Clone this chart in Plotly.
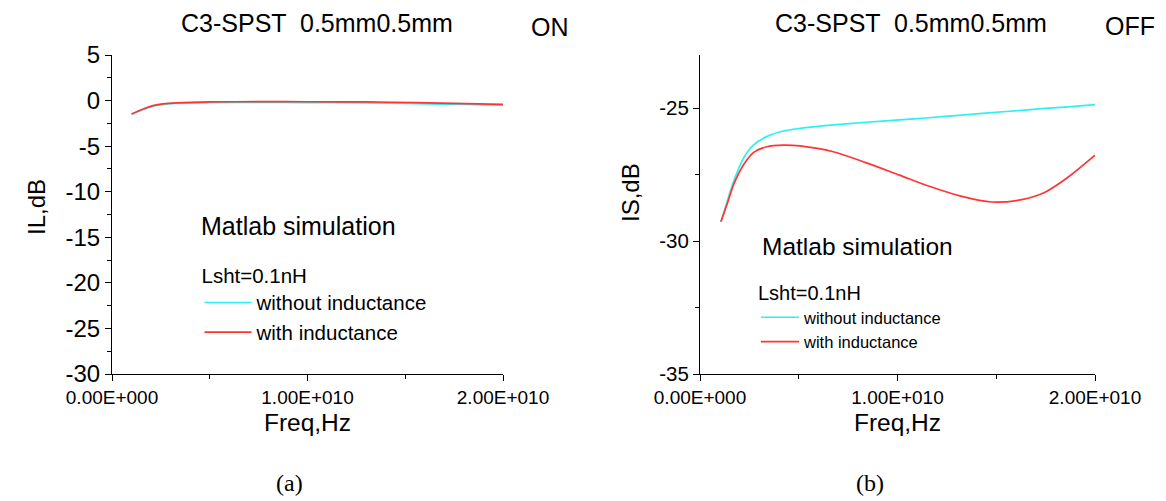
import plotly.graph_objects as go

# ---------------- data ----------------
freq_on = [1.0e9, 1.6e9, 2.1e9, 2.6e9, 3.3e9, 5.0e9, 7.6e9, 10.0e9, 13.0e9, 15.6e9, 18.1e9, 20.0e9]
il_without = [-1.50, -0.97, -0.62, -0.43, -0.32, -0.22, -0.19, -0.22, -0.26, -0.34, -0.43, -0.50]
il_with = [-1.47, -0.92, -0.56, -0.37, -0.26, -0.15, -0.12, -0.13, -0.15, -0.23, -0.34, -0.41]

freq_off = [1.06e9, 1.4e9, 1.69e9, 2.19e9, 2.7e9, 3.38e9, 4.22e9, 5.06e9, 6.75e9, 8.4e9,
            10.1e9, 11.57e9, 13.25e9, 14.77e9, 16.29e9, 17.47e9, 18.65e9, 20.0e9]
is_without = [-29.27, -28.45, -27.78, -26.90, -26.39, -26.07, -25.86, -25.76, -25.63, -25.53,
              -25.44, -25.36, -25.26, -25.17, -25.08, -25.01, -24.95, -24.87]
is_with = [-29.27, -28.55, -27.90, -27.15, -26.67, -26.45, -26.39, -26.42, -26.64, -27.05,
           -27.52, -27.93, -28.32, -28.53, -28.44, -28.16, -27.59, -26.77]

x_tickvals = [0, 1e10, 2e10]
x_ticktext = ["0.00E+000", "1.00E+010", "2.00E+010"]
il_tickvals = [5, 0, -5, -10, -15, -20, -25, -30]
il_ticktext = ["5", "0", "-5", "-10", "-15", "-20", "-25", "-30"]
is_tickvals = [-25, -30, -35]
is_ticktext = ["-25", "-30", "-35"]

panel_title = "C3-SPST  0.5mm0.5mm"
state_on, state_off = "ON", "OFF"
legend_title = "Lsht=0.1nH"
name_without, name_with = "without inductance", "with inductance"
note = "Matlab simulation"

CYAN = "#2DF0F0"
RED = "#FF3535"
FONT = "Liberation Sans, Arial, sans-serif"
SERIF = "Liberation Serif, Times New Roman, serif"
W, H = 1166, 501

fig = go.Figure()
fig.add_trace(go.Scatter(x=freq_on, y=il_without, mode="lines", name=name_without,
                         line=dict(color=CYAN, width=1.7, shape="spline", smoothing=0.8),
                         xaxis="x", yaxis="y", legend="legend"))
fig.add_trace(go.Scatter(x=freq_on, y=il_with, mode="lines", name=name_with,
                         line=dict(color=RED, width=1.7, shape="spline", smoothing=0.8),
                         xaxis="x", yaxis="y", legend="legend"))
fig.add_trace(go.Scatter(x=freq_off, y=is_without, mode="lines", name=name_without,
                         line=dict(color=CYAN, width=1.7, shape="spline", smoothing=0.8),
                         xaxis="x2", yaxis="y2", legend="legend2"))
fig.add_trace(go.Scatter(x=freq_off, y=is_with, mode="lines", name=name_with,
                         line=dict(color=RED, width=1.7, shape="spline", smoothing=0.8),
                         xaxis="x2", yaxis="y2", legend="legend2"))

def px(x):
    return x / W

def py(y):
    return 1 - y / H

common = dict(showline=True, linecolor="black", linewidth=1, ticks="outside",
              ticklen=6, tickcolor="black", tickwidth=1, showgrid=False,
              zeroline=False, mirror=False, automargin=False)

ydom = [py(374), py(55)]

fig.update_layout(
    width=W, height=H, margin=dict(l=0, r=0, t=0, b=0),
    paper_bgcolor="white", plot_bgcolor="white", template="none",
    font=dict(family=FONT, color="black"),
    xaxis=dict(domain=[px(112), px(503)], range=[0, 2e10], anchor="y",
               tickmode="array", tickvals=x_tickvals, ticktext=x_ticktext,
               tickfont=dict(size=19),
               minor=dict(tickmode="linear", tick0=0, dtick=5e9, ticks="outside",
                          ticklen=4, tickcolor="black"),
               title=dict(text="Freq,Hz", font=dict(size=24.5), standoff=7),
               **common),
    yaxis=dict(domain=ydom, range=[-30, 5], anchor="x",
               tickmode="array", tickvals=il_tickvals, ticktext=il_ticktext,
               tickfont=dict(size=24),
               minor=dict(tickmode="linear", tick0=0, dtick=2.5, ticks="outside",
                          ticklen=4, tickcolor="black"),
               **common),
    xaxis2=dict(domain=[px(700), px(1095)], range=[0, 2e10], anchor="y2",
                tickmode="array", tickvals=x_tickvals, ticktext=x_ticktext,
                tickfont=dict(size=19),
                minor=dict(tickmode="linear", tick0=0, dtick=5e9, ticks="outside",
                           ticklen=4, tickcolor="black"),
                title=dict(text="Freq,Hz", font=dict(size=24.5), standoff=7),
                **common),
    yaxis2=dict(domain=ydom, range=[-35, -23], anchor="x2",
                tickmode="array", tickvals=is_tickvals, ticktext=is_ticktext,
                tickfont=dict(size=20.5),
                minor=dict(tickmode="linear", tick0=0, dtick=2.5, ticks="outside",
                           ticklen=4, tickcolor="black"),
                **common),
    legend=dict(x=px(199.5), y=py(256), xanchor="left", yanchor="top",
                bgcolor="rgba(0,0,0,0)", borderwidth=0, traceorder="normal",
                itemwidth=47, font=dict(size=20.5),
                title=dict(text=legend_title, font=dict(size=20.5))),
    legend2=dict(x=px(756), y=py(274), xanchor="left", yanchor="top",
                 bgcolor="rgba(0,0,0,0)", borderwidth=0, traceorder="normal",
                 itemwidth=38, font=dict(size=16.5),
                 title=dict(text=legend_title, font=dict(size=20))),
    showlegend=True,
)

ann = [
    dict(text=panel_title, x=px(317), y=py(23), size=25, family=FONT, angle=0),
    dict(text=state_on, x=px(550), y=py(27), size=25, family=FONT, angle=0),
    dict(text=panel_title, x=px(911), y=py(23), size=25, family=FONT, angle=0),
    dict(text=state_off, x=px(1130), y=py(26), size=25, family=FONT, angle=0),
    dict(text=note, x=px(299), y=py(226), size=25, family=FONT, angle=0),
    dict(text=note, x=px(858), y=py(247), size=24.5, family=FONT, angle=0),
    dict(text="IL,dB", x=px(36), y=py(207), size=24, family=FONT, angle=-90),
    dict(text="IS,dB", x=px(631), y=py(193), size=24, family=FONT, angle=-90),
    dict(text="(a)", x=px(289), y=py(483), size=24, family=SERIF, angle=0),
    dict(text="(b)", x=px(870), y=py(483), size=24, family=SERIF, angle=0),
]
for a in ann:
    fig.add_annotation(text=a["text"], x=a["x"], y=a["y"], xref="paper", yref="paper",
                       xanchor="center", yanchor="middle", showarrow=False,
                       textangle=a["angle"],
                       font=dict(size=a["size"], family=a["family"], color="black"))

fig.write_html("out.html")
